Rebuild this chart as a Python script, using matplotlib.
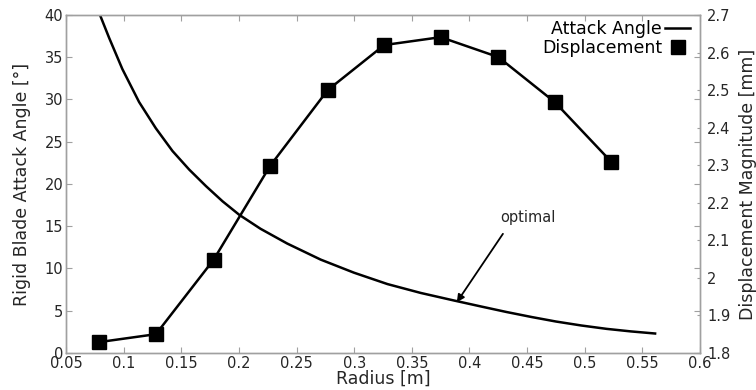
import numpy as np
import matplotlib
matplotlib.use("Agg")
import matplotlib.pyplot as plt
from matplotlib.lines import Line2D

# attack angle curve
radius_curve = [0.0795, 0.0874, 0.0989, 0.1134, 0.1279, 0.1424, 0.1569, 0.1714, 0.1858,
                0.2003, 0.2187, 0.2419, 0.2709, 0.2998, 0.3289, 0.3578, 0.3868, 0.410,
                0.432, 0.454, 0.475, 0.497, 0.519, 0.540, 0.561]
attack_angle = [40.0, 37.3, 33.6, 29.7, 26.6, 23.9, 21.7, 19.75, 17.95,
                16.35, 14.7, 12.95, 11.05, 9.5, 8.15, 7.1, 6.2, 5.5,
                4.85, 4.25, 3.72, 3.25, 2.85, 2.55, 2.3]

# displacement magnitude at blade stations
radius_pts = [0.079, 0.128, 0.178, 0.227, 0.277, 0.326, 0.375, 0.425, 0.474, 0.523]
displacement = [1.829, 1.850, 2.048, 2.298, 2.500, 2.620, 2.641, 2.588, 2.468, 2.309]

x_ticks = [0.05, 0.1, 0.15, 0.2, 0.25, 0.3, 0.35, 0.4, 0.45, 0.5, 0.55, 0.6]
x_ticklabels = ["0.05", "0.1", "0.15", "0.2", "0.25", "0.3", "0.35", "0.4", "0.45", "0.5", "0.55", "0.6"]
y_ticks = [0, 5, 10, 15, 20, 25, 30, 35, 40]
y2_ticks = [1.8, 1.9, 2.0, 2.1, 2.2, 2.3, 2.4, 2.5, 2.6, 2.7]
y2_ticklabels = ["1.8", "1.9", "2", "2.1", "2.2", "2.3", "2.4", "2.5", "2.6", "2.7"]

# annotation: text position, arrow start, arrow tip
note_xy = (0.451, 16.0)
arrow_from = (0.429, 14.1)
arrow_to = (0.389, 6.0)

spine_col = "#a0a0a0"
text_col = "#262626"

fig = plt.figure(figsize=(7.56, 3.9), dpi=100)
ax = fig.add_axes([0.0873, 0.095, 0.8387, 0.8665])
ax2 = ax.twinx()

ax.plot(radius_curve, attack_angle, color="black", lw=1.8)
ax2.plot(radius_pts, displacement, color="black", lw=1.8, marker="s", ms=10)

ax.set_xlim(0.05, 0.6)
ax.set_ylim(0, 40)
ax2.set_ylim(1.8, 2.7)

ax.set_xticks(x_ticks)
ax.set_xticklabels(x_ticklabels)
ax.set_yticks(y_ticks)
ax2.set_yticks(y2_ticks)
ax2.set_yticklabels(y2_ticklabels)

for a in (ax, ax2):
    for s in a.spines.values():
        s.set_color(spine_col)
        s.set_linewidth(1.0)
ax.tick_params(direction="in", length=4, width=0.8, color=spine_col, labelcolor=text_col,
               labelsize=10.5, top=True, right=True, pad=2)
ax2.tick_params(direction="in", length=2.5, width=0.8, color=spine_col, labelcolor=text_col,
                labelsize=10.5, pad=5)

ax.set_xlabel("Radius [m]", fontsize=12.5, color=text_col, labelpad=-1)
ax.set_ylabel("Rigid Blade Attack Angle [°]", fontsize=12.5, color=text_col, labelpad=10)
ax2.set_ylabel("Displacement Magnitude [mm]", fontsize=12.5, color=text_col, labelpad=6)

ax.text(note_xy[0], note_xy[1], "optimal", fontsize=10.5, color=text_col,
        ha="center", va="center")
ax.annotate("", xy=arrow_to, xytext=arrow_from,
            arrowprops=dict(arrowstyle="-|>", color="black", lw=1.3,
                            mutation_scale=11, shrinkA=0, shrinkB=0))

handles = [Line2D([], [], color="black", lw=1.8),
           Line2D([], [], color="black", ls="none", marker="s", ms=10)]
ax2.legend(handles, ["Attack Angle", "Displacement"], loc="upper right",
           bbox_to_anchor=(0.992, 1.0),
           frameon=False, markerfirst=False, fontsize=12.5, handlelength=1.4,
           handletextpad=0.2, labelspacing=0.05, borderaxespad=0.1, borderpad=0.2)

fig.savefig("out.png", dpi=100)
